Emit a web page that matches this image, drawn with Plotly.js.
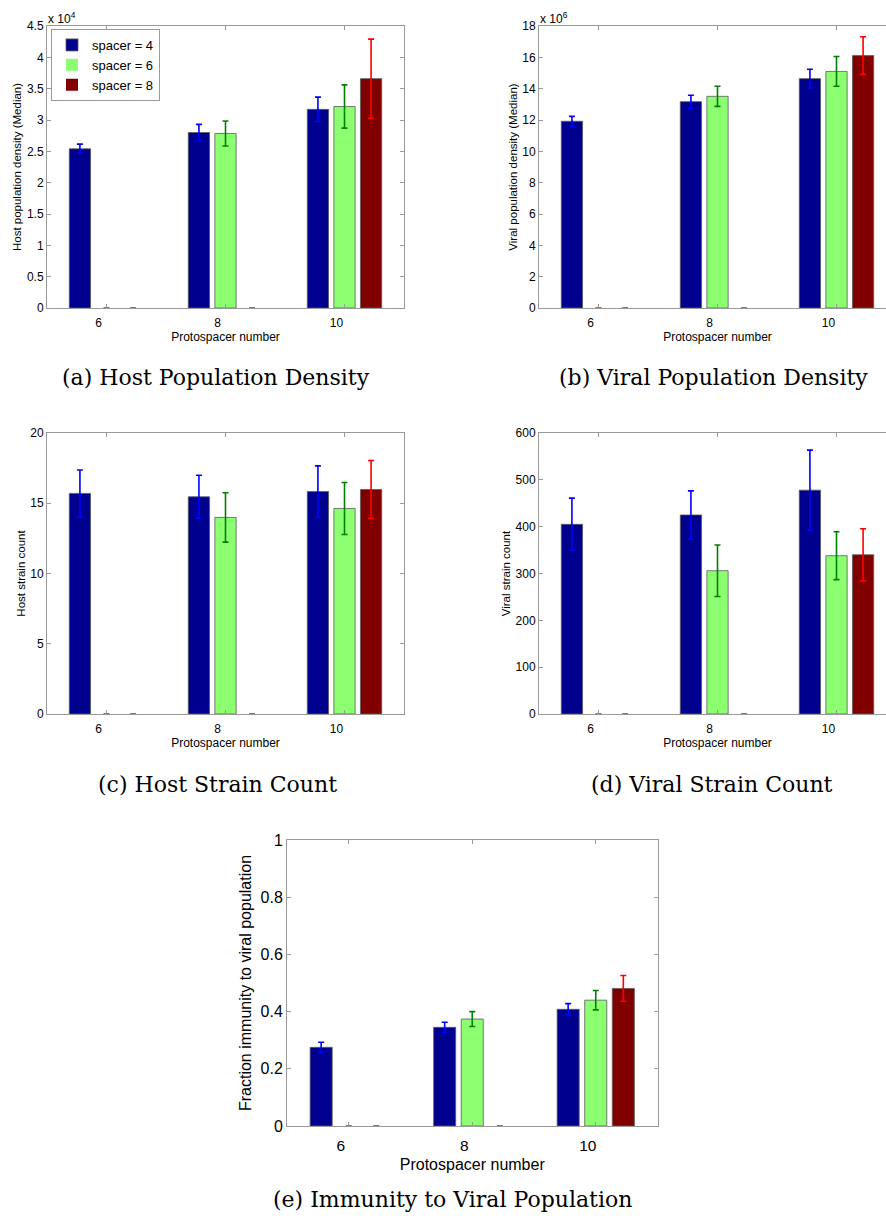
<!DOCTYPE html>
<html>
<head>
<meta charset="utf-8">
<script src="https://cdn.plot.ly/plotly-3.0.1.min.js"></script>
<style>
  html, body { margin: 0; padding: 0; background: #fff; overflow: hidden; }
  #chart { width: 900px; height: 1218px; }
</style>
</head>
<body>
<div id="chart"></div>
<script>
// ---------- data ----------
const categories = [6, 8, 10];
const categoryLabels = ['6', '8', '10'];
const seriesNames = ['spacer = 4', 'spacer = 6', 'spacer = 8'];
const barColors = ['#00008F', '#8CFF70', '#800000'];
const errColors = ['#0000FF', '#008000', '#FF0000'];

// (a) Host population density (Median)
const hostDensity4 = [25400, 28000, 31700];
const hostDensity6 = [0, 27850, 32150];
const hostDensity8 = [0, 0, 36600];
const hostDensityErr4 = [750, 1300, 1950];
const hostDensityErr6 = [0, 2000, 3450];
const hostDensityErr8 = [0, 0, 6300];

// (b) Viral population density (Median)
const viralDensity4 = [11.92e6, 13.17e6, 14.64e6];
const viralDensity6 = [0, 13.51e6, 15.10e6];
const viralDensity8 = [0, 0, 16.11e6];
const viralDensityErr4 = [0.31e6, 0.41e6, 0.60e6];
const viralDensityErr6 = [0, 0.64e6, 0.95e6];
const viralDensityErr8 = [0, 0, 1.20e6];

// (c) Host strain count
const hostStrain4 = [15.7, 15.46, 15.83];
const hostStrain6 = [0, 13.99, 14.63];
const hostStrain8 = [0, 0, 15.98];
const hostStrainErr4 = [1.67, 1.53, 1.83];
const hostStrainErr6 = [0, 1.76, 1.85];
const hostStrainErr8 = [0, 0, 2.06];

// (d) Viral strain count
const viralStrain4 = [405, 425, 478];
const viralStrain6 = [0, 306, 338];
const viralStrain8 = [0, 0, 340];
const viralStrainErr4 = [56, 51.5, 85.5];
const viralStrainErr6 = [0, 55, 51];
const viralStrainErr8 = [0, 0, 55.7];

// (e) Fraction immunity to viral population
const immunity4 = [0.275, 0.345, 0.408];
const immunity6 = [0, 0.374, 0.440];
const immunity8 = [0, 0, 0.481];
const immunityErr4 = [0.018, 0.018, 0.020];
const immunityErr6 = [0, 0.026, 0.034];
const immunityErr8 = [0, 0, 0.045];

// tick labels
const hostDensityTickVals = [0, 5000, 10000, 15000, 20000, 25000, 30000, 35000, 40000, 45000];
const hostDensityTickText = ['0', '0.5', '1', '1.5', '2', '2.5', '3', '3.5', '4', '4.5'];
const viralDensityTickVals = [0, 2e6, 4e6, 6e6, 8e6, 10e6, 12e6, 14e6, 16e6, 18e6];
const viralDensityTickText = ['0', '2', '4', '6', '8', '10', '12', '14', '16', '18'];
const hostStrainTickVals = [0, 5, 10, 15, 20];
const viralStrainTickVals = [0, 100, 200, 300, 400, 500, 600];
const immunityTickVals = [0, 0.2, 0.4, 0.6, 0.8, 1];
const immunityTickText = ['0', '0.2', '0.4', '0.6', '0.8', '1'];

const xTitle = 'Protospacer number';
const yTitles = [
  'Host population density (Median)',
  'Viral population density (Median)',
  'Host strain count',
  'Viral strain count',
  'Fraction immunity to viral population'
];
const captions = [
  '(a) Host Population Density',
  '(b) Viral Population Density',
  '(c) Host Strain Count',
  '(d) Viral Strain Count',
  '(e) Immunity to Viral Population'
];

const panels = [
  { vals: [hostDensity4, hostDensity6, hostDensity8], errs: [hostDensityErr4, hostDensityErr6, hostDensityErr8] },
  { vals: [viralDensity4, viralDensity6, viralDensity8], errs: [viralDensityErr4, viralDensityErr6, viralDensityErr8] },
  { vals: [hostStrain4, hostStrain6, hostStrain8], errs: [hostStrainErr4, hostStrainErr6, hostStrainErr8] },
  { vals: [viralStrain4, viralStrain6, viralStrain8], errs: [viralStrainErr4, viralStrainErr6, viralStrainErr8] },
  { vals: [immunity4, immunity6, immunity8], errs: [immunityErr4, immunityErr6, immunityErr8] }
];

// ---------- layout geometry (pixels) ----------
const W = 900, H = 1218;
const boxes = [
  { l: 47,  r: 404,   t: 26,  b: 308 },
  { l: 539, r: 896,   t: 26,  b: 308 },
  { l: 47,  r: 404,   t: 433, b: 714 },
  { l: 539, r: 896,   t: 433, b: 714 },
  { l: 287, r: 657.5, t: 840, b: 1126 }
];
const px = v => v / W;
const py = v => (H - v) / H;

const traces = [];
panels.forEach((p, i) => {
  const ax = i === 0 ? '' : String(i + 1);
  for (let s = 0; s < 3; s++) {
    traces.push({
      type: 'bar',
      x: categories,
      y: p.vals[s],
      name: seriesNames[s],
      legendgroup: 'g' + s,
      showlegend: i === 0,
      xaxis: 'x' + ax,
      yaxis: 'y' + ax,
      marker: {
        color: barColors[s],
        line: { color: '#5a5a5a', width: p.vals[s].map(v => (v === 0 ? 0 : 0.8)) }
      },
      error_y: { type: 'data', array: p.errs[s], visible: true, color: errColors[s], thickness: 1.6, width: 3 },
      hoverinfo: 'skip'
    });
  }
});

const gridCol = '#9a9a9a';
function xAxis(i, big) {
  const b = boxes[i];
  return {
    domain: [px(b.l), px(b.r)],
    anchor: 'y' + (i === 0 ? '' : i + 1),
    range: [5, 11],
    tickmode: 'array', tickvals: categories, ticktext: categoryLabels,
    showline: true, mirror: 'ticks', linecolor: gridCol, linewidth: 1,
    ticks: 'inside', ticklen: 4, tickcolor: gridCol, tickwidth: 1,
    showgrid: false, zeroline: false, fixedrange: true,
    ticklabelshift: -8,
    ticklabelstandoff: big ? 5 : 4,
    tickfont: { size: big ? 15.5 : 12, color: '#000' },
    title: { text: xTitle, font: { size: big ? 16 : 12, color: '#000' }, standoff: big ? 6 : 0 }
  };
}
function yAxis(i, range, tv, tt, big) {
  const b = boxes[i];
  const ax = {
    domain: [py(b.b), py(b.t)],
    anchor: 'x' + (i === 0 ? '' : i + 1),
    range: range,
    tickmode: 'array', tickvals: tv,
    showline: true, mirror: 'ticks', linecolor: gridCol, linewidth: 1,
    ticks: 'inside', ticklen: 4, tickcolor: gridCol, tickwidth: 1,
    showgrid: false, zeroline: false, fixedrange: true,
    tickfont: { size: big ? 16 : 12, color: '#000' },
    title: { text: yTitles[i], font: { size: big ? 16 : 11.5, color: '#000' }, standoff: big ? 4 : 2 }
  };
  if (tt) ax.ticktext = tt;
  return ax;
}

const annotations = [];
// exponent labels
[[0, '4'], [1, '6']].forEach(([i, e]) => {
  annotations.push({
    xref: 'paper', yref: 'paper', x: px(boxes[i].l - 1), y: py(boxes[i].t + 2),
    xanchor: 'left', yanchor: 'bottom', showarrow: false,
    text: 'x 10<sup>' + e + '</sup>', font: { size: 12, color: '#000' }
  });
});
// sub-figure captions
const capPos = [[216, 377], [713, 377], [217, 784], [712, 784], [453, 1199]];
captions.forEach((c, i) => {
  annotations.push({
    xref: 'paper', yref: 'paper', x: px(capPos[i][0]), y: py(capPos[i][1]),
    xanchor: 'center', yanchor: 'middle', showarrow: false,
    text: c, font: { family: 'DejaVu Serif, Liberation Serif, serif', size: 22, color: '#000' }
  });
});

const layout = {
  width: W, height: H,
  margin: { l: 0, r: 0, t: 0, b: 0, pad: 0 },
  paper_bgcolor: '#fff', plot_bgcolor: '#fff',
  font: { family: 'Liberation Sans, Arial, Helvetica, sans-serif', size: 12, color: '#000' },
  barmode: 'group', bargap: 0.33, bargroupgap: 0.2,
  showlegend: true,
  legend: {
    x: px(51), y: py(29), xanchor: 'left', yanchor: 'top',
    bgcolor: '#fff', bordercolor: gridCol, borderwidth: 1,
    font: { size: 13, color: '#000' }, tracegroupgap: 0, itemwidth: 30
  },
  xaxis: xAxis(0), yaxis: yAxis(0, [0, 45000], hostDensityTickVals, hostDensityTickText),
  xaxis2: xAxis(1), yaxis2: yAxis(1, [0, 18e6], viralDensityTickVals, viralDensityTickText),
  xaxis3: xAxis(2), yaxis3: yAxis(2, [0, 20], hostStrainTickVals),
  xaxis4: xAxis(3), yaxis4: yAxis(3, [0, 600], viralStrainTickVals),
  xaxis5: xAxis(4, true), yaxis5: yAxis(4, [0, 1], immunityTickVals, immunityTickText, true),
  annotations: annotations
};

Plotly.newPlot('chart', traces, layout, { staticPlot: true, displayModeBar: false });
</script>
</body>
</html>
